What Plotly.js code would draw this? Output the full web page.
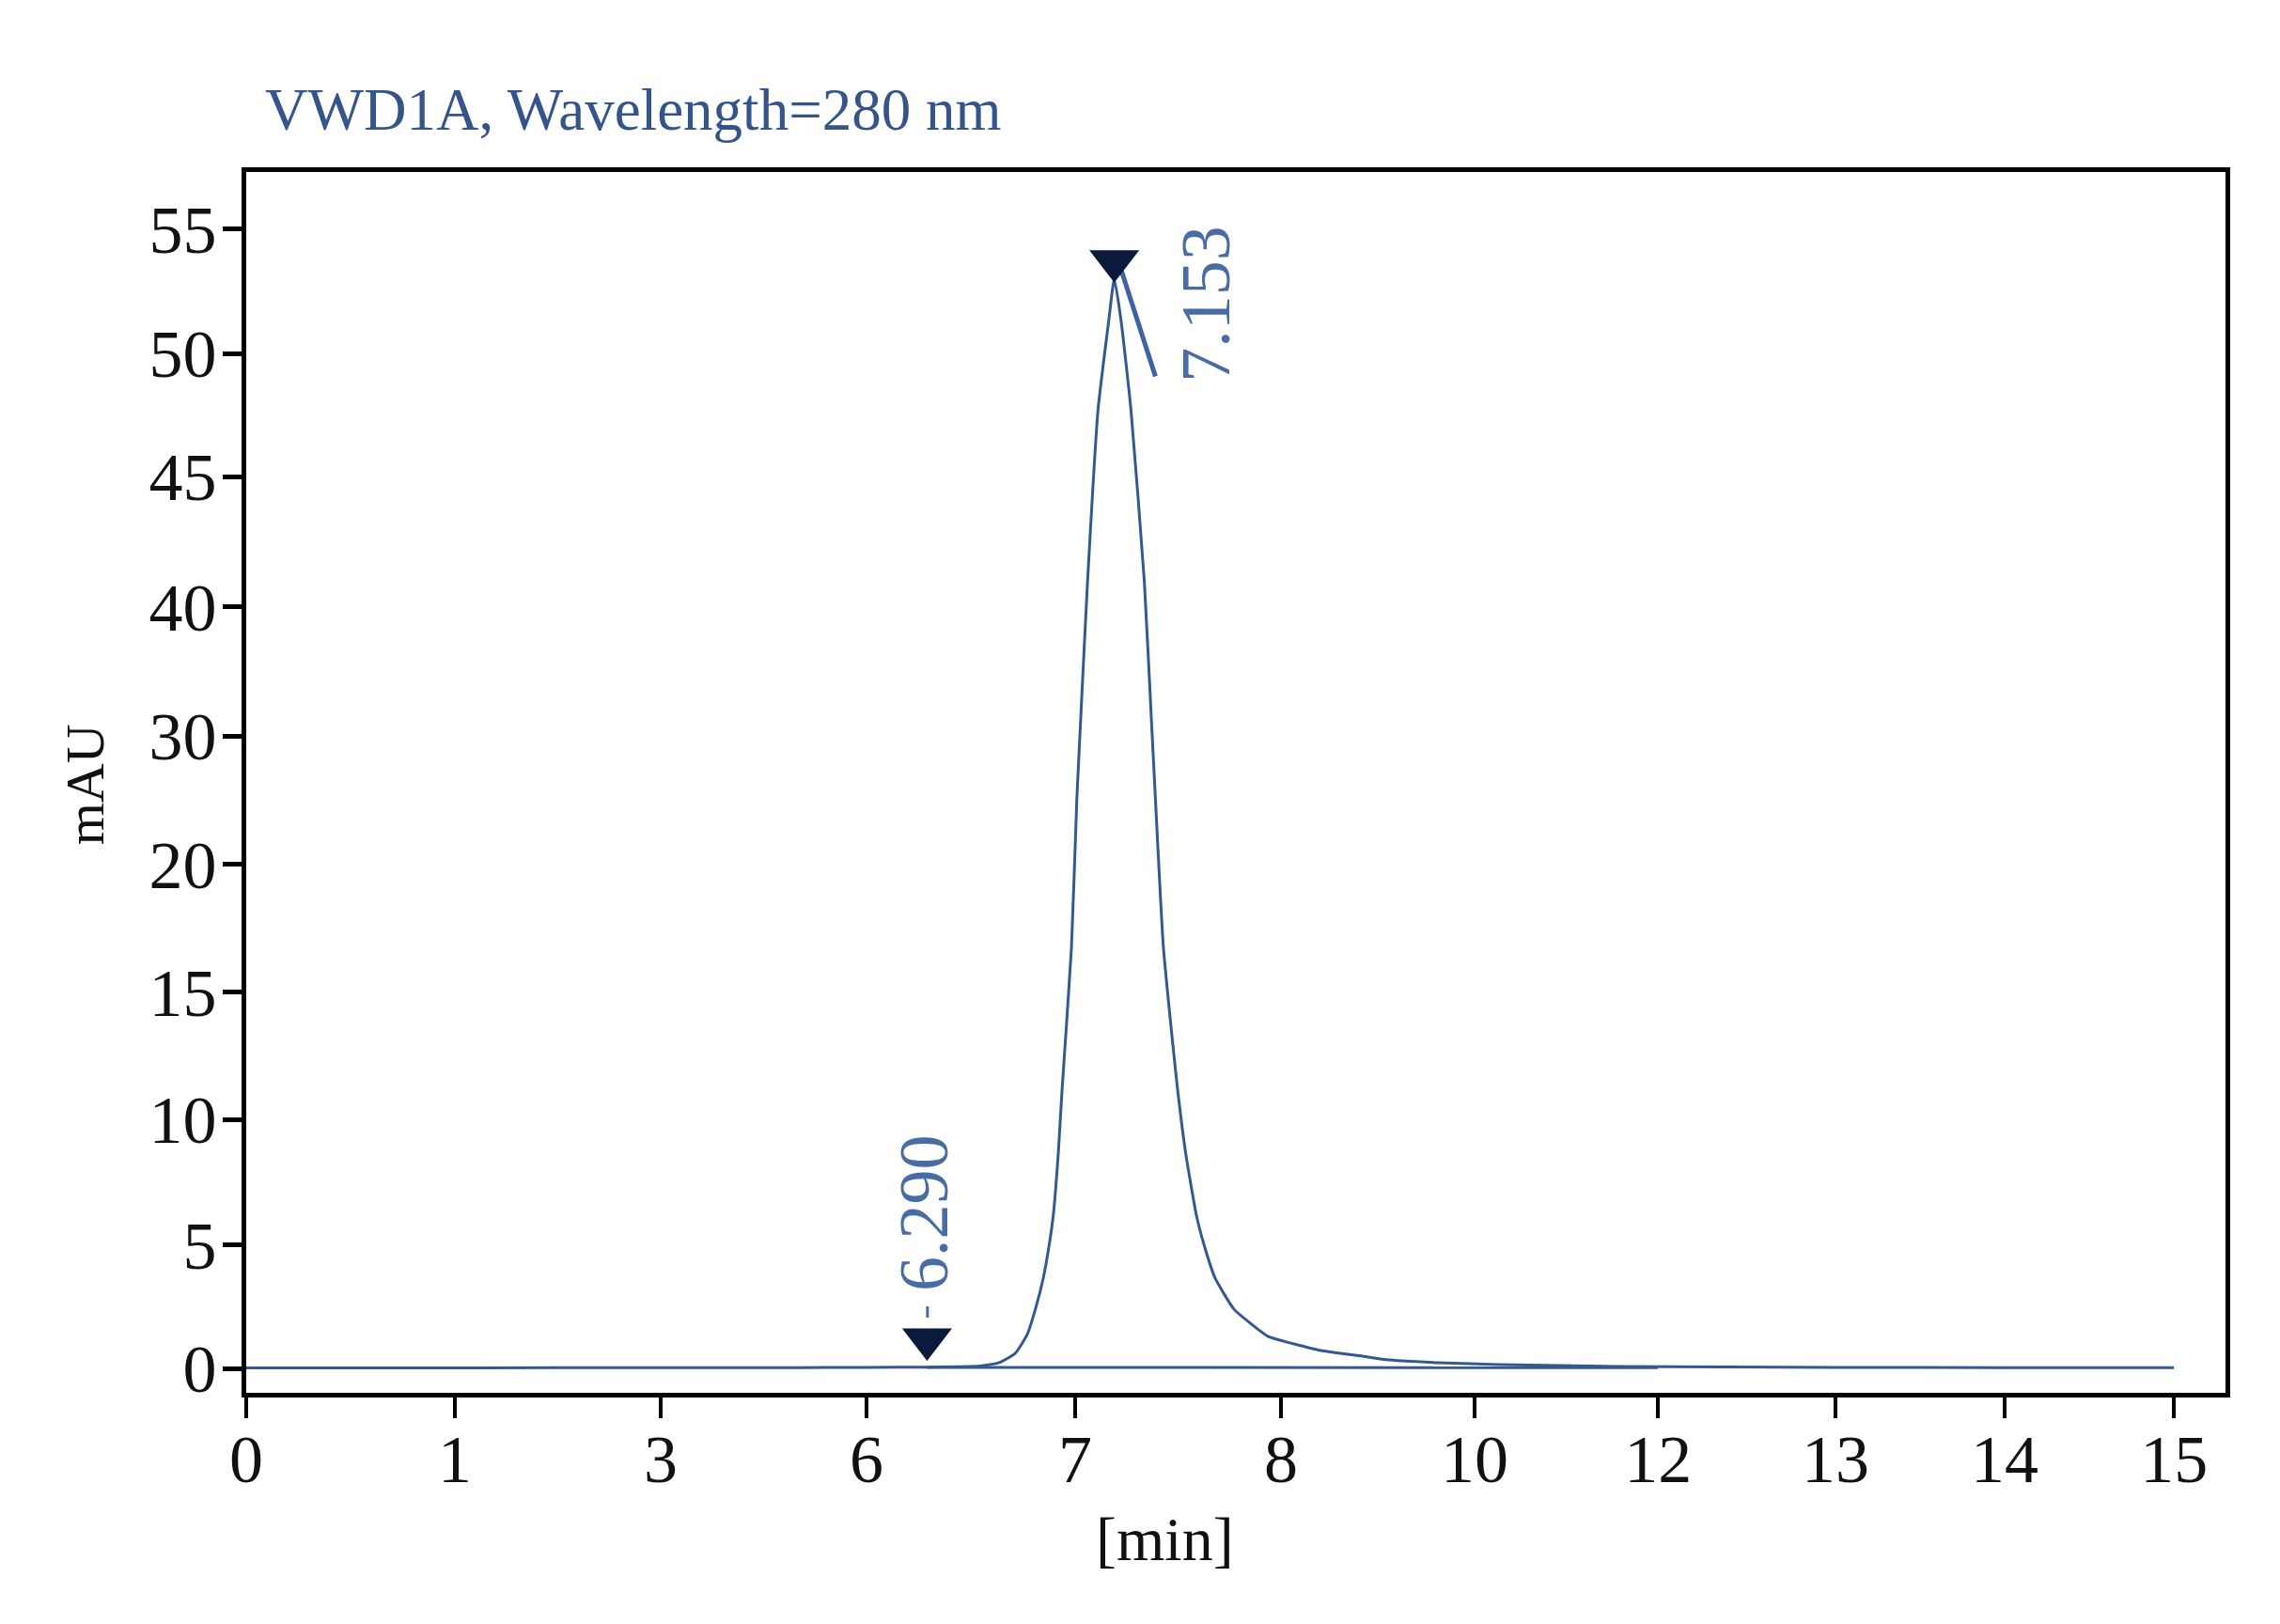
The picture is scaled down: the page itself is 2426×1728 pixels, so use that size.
<!DOCTYPE html>
<html>
<head>
<meta charset="utf-8">
<script src="https://cdn.plot.ly/plotly-3.0.1.min.js"></script>
<style>
  html, body { margin: 0; padding: 0; background: #fff; }
  #chart { width: 2426px; height: 1728px; }
</style>
</head>
<body>
<div id="chart"></div>
<script>
// signal: retention time [min] and absorbance [mAU]
const timeMin = [0, 1, 3, 5, 6, 6.29, 6.45, 6.545, 6.635, 6.712, 6.77, 6.809, 6.847, 6.874, 6.895,
  6.919, 6.937, 6.982, 7.008, 7.025, 7.06, 7.111, 7.164, 7.19, 7.222, 7.271, 7.336, 7.372,
  7.39, 7.429, 7.498, 7.537, 7.589, 7.629, 7.68, 7.772, 7.849, 7.936, 8.204, 8.408, 8.612, 8.845,
  9.087, 9.631, 10.267, 11.56, 13, 14, 15];
const signalMau = [0.02, 0.02, 0.03, 0.03, 0.04, 0.05, 0.07, 0.10, 0.23, 0.60, 1.37, 2.39, 3.65, 4.92, 6.18,
  8.66, 11.16, 16.73, 25.10, 30.74, 40.97, 47.72, 51.37, 52.98, 51.37, 47.72, 40.97, 30.74,
  25.10, 16.73, 11.16, 8.66, 6.18, 4.92, 3.65, 2.39, 1.84, 1.30, 0.92, 0.72, 0.61, 0.49,
  0.35, 0.23, 0.15, 0.08, 0.04, 0.03, 0.03];

// integration baseline
const baselineMin = [6.29, 12.0];
const baselineMau = [0.04, 0.03];

// peak marks
const peakLabels = ['6.290', '7.153'];
const peakMarkMin = [6.29, 7.19];
const peakMarkMau = [1.18, 53.7];
const peakLabelMin = [6.275, 7.637];
const peakLabelMau = [6.26, 51.99];
const tangentMin = [7.225, 7.39];
const tangentMau = [53.31, 49.07];
const stemMin = [6.292, 6.292];
const stemMau = [2.05, 2.51];

// both axes of the picture are unevenly scaled: label -> slot on the axis
const xTickLabels = [0, 1, 3, 6, 7, 8, 10, 12, 13, 14, 15];
const xTickSlots = [0, 1.0, 1.986, 2.973, 3.973, 4.959, 5.887, 6.766, 7.617, 8.428, 9.239];
const yTickLabels = [0, 5, 10, 15, 20, 30, 40, 45, 50, 55];
const yTickSlots = [0, 5.97, 12.02, 18.16, 24.33, 30.54, 36.78, 43.06, 49.01, 55.03];

function makeScale(labels, slots) {
  return v => {
    for (let i = 0; i < labels.length - 1; i++) {
      const a = labels[i], b = labels[i + 1];
      if (v <= b || i === labels.length - 2) {
        return slots[i] + (v - a) / (b - a) * (slots[i + 1] - slots[i]);
      }
    }
  };
}
const toX = makeScale(xTickLabels, xTickSlots);
const toY = makeScale(yTickLabels, yTickSlots);

const serif = 'Liberation Serif, Times New Roman, serif';
const lineBlue = '#35598f';
const labelBlue = '#4a6ca4';

function lineTrace(xs, ys, line) {
  return {
    x: xs.map(toX),
    y: ys.map(toY),
    mode: 'lines',
    type: 'scatter',
    line,
    hoverinfo: 'skip',
    showlegend: false
  };
}

const signal = lineTrace(timeMin, signalMau, { color: lineBlue, width: 3, shape: 'spline', smoothing: 0.5 });
const baseline = lineTrace(baselineMin, baselineMau, { color: lineBlue, width: 3 });
const tangent = lineTrace(tangentMin, tangentMau, { color: '#3d63a0', width: 5 });
const stem = lineTrace(stemMin, stemMau, { color: labelBlue, width: 3 });

const marks = {
  x: peakMarkMin.map(toX),
  y: peakMarkMau.map(toY),
  mode: 'markers',
  type: 'scatter',
  marker: { symbol: 'triangle-down', size: 46, color: '#0b1a3c', line: { width: 0 } },
  hoverinfo: 'skip',
  showlegend: false
};

const annotations = peakLabels.map((txt, i) => ({
  x: toX(peakLabelMin[i]),
  y: toY(peakLabelMau[i]),
  xref: 'x',
  yref: 'y',
  text: txt,
  textangle: -90,
  showarrow: false,
  font: { family: serif, size: 74, color: labelBlue }
}));

annotations.push({
  x: -0.0816, y: 0.498, xref: 'paper', yref: 'paper',
  xanchor: 'center', yanchor: 'middle',
  text: 'mAU', textangle: -90, showarrow: false,
  font: { family: serif, size: 58, color: '#111' }
});
annotations.push({
  x: 0.464, y: -0.12, xref: 'paper', yref: 'paper',
  xanchor: 'center', yanchor: 'middle',
  text: '[min]', showarrow: false,
  font: { family: serif, size: 66, color: '#111' }
});

const layout = {
  width: 2426,
  height: 1728,
  margin: { l: 262, r: 58, t: 183, b: 246 },
  paper_bgcolor: '#ffffff',
  plot_bgcolor: '#ffffff',
  title: {
    text: 'VWD1A, Wavelength=280 nm',
    xref: 'container', yref: 'container',
    x: 282 / 2426, xanchor: 'left',
    y: 0.933, yanchor: 'middle',
    font: { family: serif, size: 63, color: '#34548a' }
  },
  xaxis: {
    range: [0, 9.486],
    tickmode: 'array',
    tickvals: xTickSlots,
    ticktext: xTickLabels.map(String),
    ticks: 'outside',
    ticklen: 22,
    tickwidth: 4,
    tickcolor: '#000',
    ticklabelstandoff: -18,
    showline: true,
    linecolor: '#000',
    linewidth: 5,
    mirror: true,
    showgrid: false,
    zeroline: false,
    tickfont: { family: serif, size: 72, color: '#111' }
  },
  yaxis: {
    range: [-1.18, 57.77],
    tickmode: 'array',
    tickvals: yTickSlots,
    ticktext: yTickLabels.map(String),
    ticks: 'outside',
    ticklen: 20,
    tickwidth: 5,
    tickcolor: '#000',
    ticklabelstandoff: -8,
    showline: true,
    linecolor: '#000',
    linewidth: 5,
    mirror: true,
    showgrid: false,
    zeroline: false,
    tickfont: { family: serif, size: 72, color: '#111' }
  },
  annotations
};

Plotly.newPlot('chart', [baseline, signal, tangent, stem, marks], layout, { displayModeBar: false, staticPlot: true });
</script>
</body>
</html>
